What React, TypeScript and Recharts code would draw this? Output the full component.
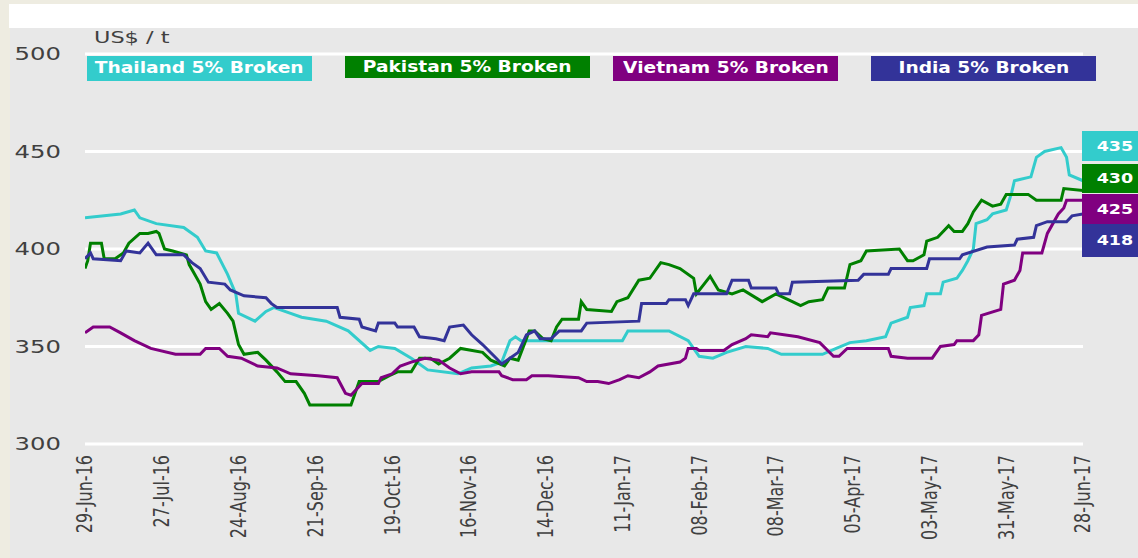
import React from 'react';
import { LineChart, Line, XAxis, YAxis, CartesianGrid } from 'recharts';

// x = days since 29-Jun-16
const TICK_DAYS = [0, 28, 56, 84, 112, 140, 168, 196, 224, 252, 280, 308, 336, 364];
const TICK_LABELS = ['29-Jun-16', '27-Jul-16', '24-Aug-16', '21-Sep-16', '19-Oct-16', '16-Nov-16', '14-Dec-16', '11-Jan-17', '08-Feb-17', '08-Mar-17', '05-Apr-17', '03-May-17', '31-May-17', '28-Jun-17'];
const Y_TICKS = [300, 350, 400, 450, 500];
const UNIT = 'US$ / t';

const SERIES_NAMES = ['Thailand 5% Broken', 'Pakistan 5% Broken', 'Vietnam 5% Broken', 'India 5% Broken'];
const SERIES_COLORS = ['#33CCCC', '#008000', '#800080', '#333399'];
const LAST_VALUES = [435, 430, 425, 418];

const THAILAND: [number, number][] = [
  [0, 416], [13, 418], [18, 420], [20, 416], [26, 413], [36, 411], [41, 406], [44, 399], [48, 398], [52, 387],
  [55, 377], [56, 367], [62, 363], [66, 368], [69, 370], [75, 367], [79, 365], [88, 363], [96, 358], [104, 348],
  [107, 350], [113, 349], [119, 344], [125, 338], [136, 336], [141, 339], [148, 340], [152, 342], [155, 353], [157, 355],
  [159, 353], [196, 353], [198, 358], [213, 358], [220, 353], [224, 345], [229, 344], [234, 347], [241, 350], [249, 349],
  [254, 346], [269, 346], [274, 349], [279, 352], [285, 353], [292, 355], [294, 362], [300, 365], [301, 370], [306, 371],
  [307, 377], [312, 377], [313, 383], [318, 385], [320, 389], [322, 394], [324, 400], [325, 413], [329, 415], [331, 418],
  [336, 420], [338, 429], [339, 435], [345, 437], [347, 447], [350, 450], [356, 452], [358, 447], [359, 438], [364, 435],
];

const PAKISTAN: [number, number][] = [
  [0, 390], [1, 394], [2, 403], [6, 403], [7, 395], [11, 395], [14, 398], [16, 403], [20, 408], [23, 408],
  [26, 409], [27, 408], [29, 400], [32, 399], [37, 397], [38, 392], [40, 387], [42, 382], [44, 373], [46, 369],
  [49, 372], [52, 367], [54, 363], [56, 351], [58, 346], [63, 347], [66, 343], [70, 337], [73, 332], [77, 332],
  [80, 326], [82, 320], [97, 320], [100, 332], [107, 332], [111, 335], [114, 337], [119, 337], [122, 344], [126, 344],
  [129, 341], [133, 344], [137, 349], [145, 347], [148, 343], [153, 340], [155, 344], [158, 343], [161, 354], [162, 358],
  [164, 358], [167, 354], [170, 353], [172, 360], [174, 364], [180, 364], [181, 373], [183, 369], [192, 368], [194, 373],
  [198, 375], [202, 384], [206, 385], [210, 393], [213, 392], [217, 390], [222, 385], [223, 377], [228, 386], [231, 379],
  [236, 377], [240, 379], [247, 373], [252, 377], [258, 373], [261, 371], [264, 373], [269, 374], [271, 380], [277, 380],
  [279, 392], [283, 394], [285, 399], [297, 400], [300, 394], [302, 394], [306, 397], [307, 404], [311, 406], [315, 412],
  [317, 409], [320, 409], [322, 413], [324, 419], [327, 425], [331, 422], [334, 423], [336, 428], [344, 428], [347, 425],
  [356, 425], [357, 431], [364, 430],
];

const VIETNAM: [number, number][] = [
  [0, 357], [3, 360], [9, 360], [13, 357], [18, 353], [24, 349], [33, 346], [42, 346], [44, 349], [49, 349],
  [52, 345], [57, 344], [63, 340], [70, 339], [75, 336], [85, 335], [92, 334], [95, 326], [97, 325], [101, 331],
  [107, 331], [108, 334], [112, 336], [115, 340], [119, 342], [124, 344], [129, 343], [133, 339], [137, 336], [141, 337],
  [151, 337], [152, 335], [156, 333], [161, 333], [163, 335], [169, 335], [180, 334], [183, 332], [187, 332], [191, 331],
  [195, 333], [198, 335], [202, 334], [206, 337], [209, 340], [217, 342], [219, 344], [220, 349], [223, 349], [224, 348],
  [233, 348], [236, 351], [241, 354], [243, 356], [249, 355], [250, 357], [260, 355], [268, 352], [273, 345], [275, 345],
  [278, 349], [293, 349], [294, 345], [300, 344], [309, 344], [312, 350], [317, 351], [318, 353], [324, 353], [326, 356],
  [327, 366], [334, 369], [335, 382], [339, 384], [341, 389], [342, 398], [349, 398], [351, 408], [355, 418], [357, 421],
  [358, 425], [364, 425],
];

const INDIA: [number, number][] = [
  [0, 395], [2, 398], [3, 395], [13, 394], [15, 399], [20, 398], [23, 403], [26, 397], [36, 397], [39, 393],
  [42, 390], [45, 383], [51, 382], [53, 379], [58, 376], [66, 375], [68, 372], [70, 370], [92, 370], [93, 365],
  [100, 364], [101, 360], [106, 358], [107, 362], [113, 362], [114, 360], [120, 360], [122, 355], [128, 354], [131, 353],
  [133, 360], [138, 361], [141, 356], [145, 351], [150, 344], [152, 341], [155, 344], [158, 347], [161, 356], [164, 358],
  [166, 354], [170, 354], [173, 358], [181, 358], [183, 362], [202, 363], [203, 372], [212, 372], [213, 374], [219, 374],
  [220, 371], [222, 377], [234, 377], [236, 384], [242, 384], [243, 380], [252, 380], [253, 377], [257, 377], [258, 383],
  [282, 384], [284, 387], [293, 387], [294, 390], [307, 390], [308, 395], [319, 395], [320, 397], [329, 401], [339, 402],
  [340, 405], [346, 406], [347, 412], [351, 414], [358, 414], [360, 417], [364, 418],
];

const SERIES_DATA = [THAILAND, PAKISTAN, VIETNAM, INDIA];

const FONT = '"DejaVu Sans", Verdana, sans-serif';
const TEXT_COLOR = '#404040';

const XTick = (props: any) => {
  const { x, y, payload } = props;
  const idx = TICK_DAYS.indexOf(payload.value);
  return (
    <g transform={`translate(${x},${y}) scale(1.3,1) rotate(-90)`}>
      <text textAnchor="end" dy="0.36em" fill={TEXT_COLOR} fontSize={16} fontFamily={FONT}>
        {idx >= 0 ? TICK_LABELS[idx] : ''}
      </text>
    </g>
  );
};

const YTick = (props: any) => {
  const { x, y, payload } = props;
  return (
    <g transform={`translate(${x},${y}) scale(1.35,1)`}>
      <text textAnchor="end" dy="0.36em" fill={TEXT_COLOR} fontSize={18} fontFamily={FONT}>
        {payload.value}
      </text>
    </g>
  );
};

const LEGEND_BOXES = [
  { left: 87, width: 225, height: 25 },
  { left: 345, width: 245, height: 22 },
  { left: 613, width: 225, height: 25 },
  { left: 871, width: 225, height: 25 },
];

const VALUE_BOXES = [
  { top: 131, height: 30 },
  { top: 164, height: 29 },
  { top: 194, height: 30 },
  { top: 224, height: 33 },
];

export default function App() {
  return (
    <div style={{ position: 'absolute', left: 0, top: 0, width: 1138, height: 558, background: '#EEECE1', overflow: 'hidden', fontFamily: FONT }}>
      <div style={{ position: 'absolute', left: 9, top: 4, width: 1129, height: 24, background: '#FFFFFF' }} />
      <div style={{ position: 'absolute', left: 10, top: 28, width: 1128, height: 530, background: '#E8E8E8' }} />
      <div style={{ position: 'absolute', left: 0, top: 0 }}>
        <LineChart width={1138} height={558} margin={{ top: 54, right: 55, bottom: 0, left: 0 }}>
          <CartesianGrid vertical={false} horizontal stroke="#FFFFFF" strokeWidth={3} />
          <XAxis
            dataKey="d"
            type="number"
            domain={[0, 364]}
            ticks={TICK_DAYS}
            interval={0}
            height={114}
            axisLine={false}
            tickLine={false}
            tickSize={0}
            tickMargin={11}
            tick={<XTick />}
            allowDataOverflow
          />
          <YAxis
            type="number"
            domain={[300, 500]}
            ticks={Y_TICKS}
            width={85}
            axisLine={false}
            tickLine={false}
            tickSize={0}
            tickMargin={24}
            tick={<YTick />}
            allowDataOverflow
          />
          {SERIES_DATA.map((s, i) => (
            <Line
              key={SERIES_NAMES[i]}
              data={s.map(([d, v]) => ({ d, v }))}
              dataKey="v"
              type="linear"
              stroke={SERIES_COLORS[i]}
              strokeWidth={3}
              dot={false}
              activeDot={false}
              isAnimationActive={false}
            />
          ))}
        </LineChart>
      </div>
      <div style={{ position: 'absolute', left: 94, top: 28, fontSize: 16, color: TEXT_COLOR, transform: 'scaleX(1.4)', transformOrigin: 'left center', whiteSpace: 'nowrap' }}>
        {UNIT}
      </div>
      {SERIES_NAMES.map((n, i) => (
        <div
          key={n}
          style={{
            position: 'absolute',
            left: LEGEND_BOXES[i].left,
            top: 56,
            width: LEGEND_BOXES[i].width,
            height: LEGEND_BOXES[i].height,
            background: SERIES_COLORS[i],
            color: '#FFFFFF',
            fontWeight: 'bold',
            fontSize: 15,
            lineHeight: LEGEND_BOXES[i].height + 'px',
            textAlign: 'center',
            whiteSpace: 'nowrap',
          }}
        >
          <span style={{ display: 'inline-block', transform: 'scaleX(1.24)' }}>{n}</span>
        </div>
      ))}
      {LAST_VALUES.map((v, i) => (
        <div
          key={i}
          style={{
            position: 'absolute',
            left: 1082,
            top: VALUE_BOXES[i].top,
            width: 56,
            height: VALUE_BOXES[i].height,
            background: SERIES_COLORS[i],
            color: '#FFFFFF',
            fontWeight: 'bold',
            fontSize: 14,
            lineHeight: VALUE_BOXES[i].height + 'px',
            textAlign: 'right',
            paddingRight: 5,
            boxSizing: 'border-box',
          }}
        >
          <span style={{ display: 'inline-block', transform: 'scaleX(1.25)', transformOrigin: 'right center' }}>{v}</span>
        </div>
      ))}
    </div>
  );
}
